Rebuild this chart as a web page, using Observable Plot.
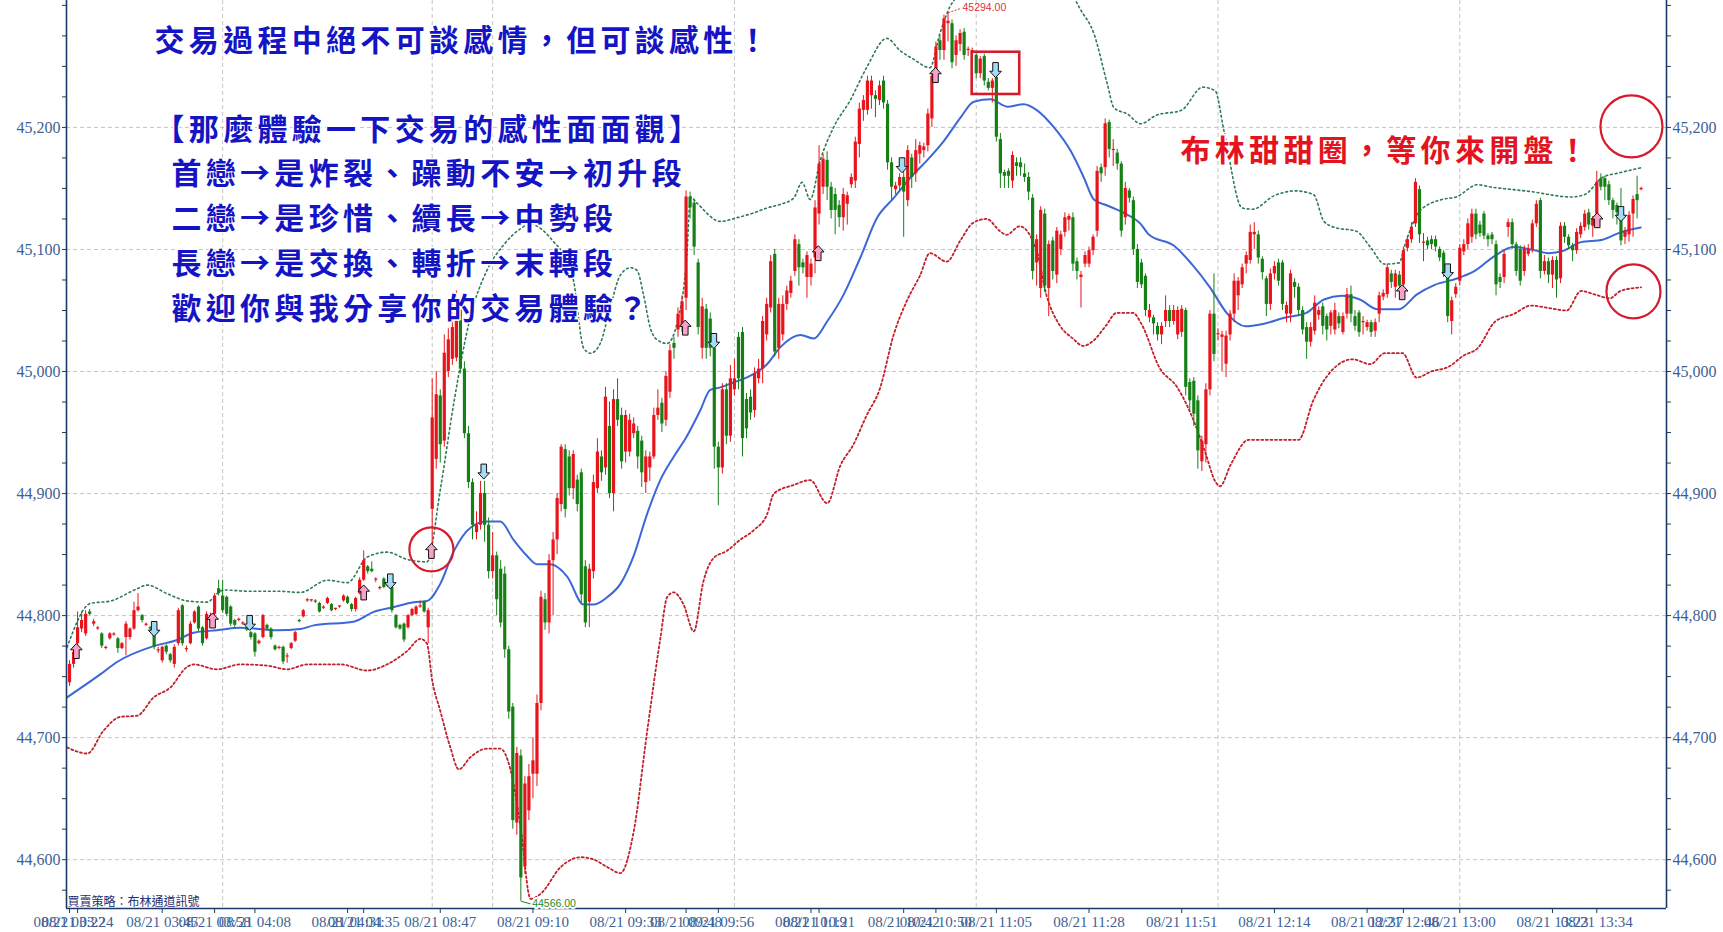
<!DOCTYPE html>
<html><head><meta charset="utf-8">
<script src="https://cdn.jsdelivr.net/npm/d3@7"></script>
<script src="https://cdn.jsdelivr.net/npm/@observablehq/plot@0.6"></script>
<style>html,body{margin:0;padding:0;background:#fff;overflow:hidden}</style>
</head><body><div id="chart"></div>
<script>
// ---- candle data: minute index m = i + 1 (night session 03:22–04:51, day session 08:45–13:45) ----
const open = [
44745,44760,44777,44789,44785,44803,44793,44789,44785,44773,44781,44784,44781,44773,44782,44782,44789,44804,44800,44792,
44790,44785,44771,44763,44775,44768,44760,44777,44808,44772,44777,44794,44807,44790,44781,44795,44801,44822,44816,44815,
44807,44796,44796,44793,44790,44786,44785,44777,44782,44792,44789,44775,44773,44774,44766,44773,44779,44796,44799,44812,
44812,44812,44810,44806,44810,44809,44805,44807,44812,44815,44809,44805,44818,44829,44840,44838,44829,44822,44830,44825,
44823,44800,44792,44793,44790,44800,44801,44807,44811,44790,
44887,44928,44980,44943,45000,45010,45011,45053,45002,44949,44909,44868,44874,44900,44874,44836,44849,44838,44834,44772,
44725,44630,44685,44594,44640,44670,44670,44728,44813,44794,44845,44862,44891,44936,44930,44904,44911,44917,44840,44811,
44836,44904,44930,44921,44955,44900,44977,44964,44934,44934,44949,44951,44943,44909,44921,44930,44964,44974,44960,44983,
45023,45034,45036,45060,45143,45138,45089,45019,45051,45043,45019,44938,44921,44985,44947,44985,45028,45032,44977,44979,
44968,44994,45002,45030,45052,45096,45019,45030,45055,45064,45082,45104,45089,45077,45077,45093,45129,45151,45173,45151,
45145,45136,45126,45137,45153,45156,45186,45214,45214,45226,45226,45222,45238,45219,45171,45149,45152,45159,45140,45175,
45162,45178,45181,45185,45207,45241,45271,45263,45285,45285,45259,45268,45278,45263,45262,45259,45244,45258,45237,45232,
45241,45190,45163,45164,45156,45171,45171,45162,45159,45142,45089,45068,45129,45068,45107,45079,45100,45114,45124,45126,
45090,45077,45088,45088,45099,45115,45167,45167,45204,45181,45179,45170,45126,45148,45140,45100,45089,45078,45044,45044,
45037,45030,45041,45050,45041,45030,45032,45050,44991,44992,44976,44926,44940,44985,45047,45030,45028,45006,45030,45047,
45062,45071,45088,45091,45112,45112,45092,45076,45055,45080,45089,45089,45047,45047,45073,45069,45050,45036,45024,45033,
45046,45053,45045,45037,45034,45045,45032,45047,45063,45045,45048,45040,45036,45040,45033,45047,45061,45063,45080,45069,
45079,45071,45101,45108,45121,45149,45105,45107,45108,45108,45100,45097,45080,45041,45063,45074,45098,45104,45110,45129,
45120,45129,45111,45112,45104,45077,45077,45118,45122,45104,45100,45082,45096,45100,45121,45140,45082,45090,45079,45091,
45076,45119,45110,45103,45099,45112,45118,45130,45119,45129,45158,45158,45153,45140,45136,45130,45110,45112,45129,45145,
45149];
const close = [
44760,44770,44790,44796,44801,44801,44795,44790,44775,44774,44785,44785,44773,44777,44793,44789,44804,44807,44796,44793,
44789,44774,44772,44774,44770,44763,44774,44804,44777,44773,44793,44803,44789,44777,44801,44800,44816,44818,44804,44801,
44793,44792,44797,44794,44788,44782,44770,44779,44800,44789,44782,44772,44774,44762,44767,44777,44786,44795,44804,44813,
44813,44811,44803,44807,44814,44804,44806,44808,44816,44810,44805,44814,44829,44845,44836,44836,44830,44823,44823,44824,
44804,44790,44789,44780,44800,44805,44807,44808,44803,44804,
44962,44981,44940,45015,45026,45036,45057,45002,44949,44909,44874,44874,44900,44874,44836,44849,44813,44794,44772,44721,
44632,44687,44585,44662,44668,44681,44728,44815,44794,44845,44862,44896,44938,44887,44904,44932,44891,44817,44794,44838,
44909,44934,44917,44979,44900,44977,44960,44926,44964,44960,44957,44930,44917,44930,44930,44964,44970,44957,44996,45017,
45019,45047,45057,45143,45134,45102,45036,45053,45019,45019,44938,44921,44985,44947,44994,44994,44994,44945,44953,44966,
44998,45002,45041,45055,45090,45016,45055,45055,45066,45074,45108,45085,45085,45095,45088,45134,45170,45174,45151,45132,
45132,45126,45145,45144,45159,45188,45215,45222,45238,45238,45223,45234,45220,45171,45151,45152,45159,45147,45181,45159,
45181,45185,45184,45211,45242,45266,45263,45289,45287,45253,45271,45277,45259,45264,45263,45244,45256,45238,45232,45238,
45192,45162,45160,45160,45177,45168,45167,45159,45147,45082,45108,45132,45070,45104,45082,45115,45112,45126,45127,45088,
45082,45079,45095,45099,45110,45164,45162,45203,45182,45182,45170,45115,45150,45142,45100,45073,45071,45050,45050,45039,
45030,45037,45050,45041,45050,45050,45051,44987,44976,44965,44935,44943,44985,45047,45014,45031,45030,45029,45047,45074,
45074,45085,45095,45114,45114,45093,45081,45055,45080,45086,45074,45055,45054,45080,45069,45050,45034,45024,45036,45056,
45050,45037,45034,45048,45050,45039,45045,45063,45047,45037,45032,45041,45040,45032,45040,45062,45064,45085,45073,45080,
45070,45099,45108,45118,45155,45112,45106,45103,45104,45102,45093,45080,45045,45058,45069,45101,45104,45121,45129,45112,
45113,45111,45108,45108,45071,45073,45096,45122,45104,45082,45074,45100,45100,45121,45137,45082,45090,45079,45091,45075,
45119,45110,45103,45099,45114,45119,45129,45120,45125,45155,45151,45151,45140,45132,45130,45107,45115,45128,45141,45140,
45150];
const high = [
44763,44773,44803,44803,44804,44805,44797,44791,44786,44775,44786,44786,44782,44778,44795,44790,44811,44818,44801,44794,
44791,44786,44774,44775,44776,44769,44776,44806,44809,44775,44795,44804,44808,44791,44803,44802,44818,44829,44829,44816,
44808,44797,44798,44795,44791,44787,44786,44780,44801,44793,44790,44776,44775,44775,44769,44778,44787,44797,44805,44814,
44813,44813,44811,44808,44815,44810,44806,44808,44817,44816,44810,44815,44831,44853,44841,44844,44831,44824,44831,44826,
44824,44801,44793,44794,44801,44806,44808,44812,44812,44806,
44994,45000,44985,45030,45035,45062,45066,45060,45008,44955,44912,44885,44910,44910,44880,44868,44852,44845,44840,44775,
44728,44692,44690,44668,44678,44700,44735,44820,44818,44850,44868,44900,44940,44940,44935,44935,44915,44920,44845,44842,
44915,44945,44935,44987,44975,44985,44994,44970,44968,44965,44962,44955,44947,44935,44934,44970,44985,44978,45000,45022,
45028,45052,45062,45148,45147,45140,45092,45060,45055,45048,45022,44942,44990,44990,45005,45010,45032,45036,44982,44985,
45003,45010,45045,45060,45095,45100,45060,45062,45070,45078,45112,45108,45092,45098,45092,45140,45185,45178,45180,45155,
45150,45140,45150,45147,45162,45192,45220,45226,45242,45242,45230,45238,45242,45222,45175,45155,45162,45170,45185,45178,
45190,45188,45187,45215,45246,45270,45275,45292,45294,45288,45275,45280,45281,45266,45265,45262,45258,45260,45240,45240,
45243,45195,45165,45166,45180,45175,45175,45170,45163,45145,45112,45135,45133,45107,45110,45118,45115,45130,45129,45130,
45093,45082,45098,45102,45112,45168,45170,45207,45206,45190,45182,45172,45155,45150,45143,45104,45092,45080,45055,45046,
45040,45040,45062,45054,45054,45053,45054,45052,44994,44995,44980,44947,44990,45050,45080,45035,45033,45033,45050,45080,
45077,45088,45098,45120,45122,45115,45094,45078,45084,45090,45092,45091,45057,45083,45076,45072,45053,45040,45040,45062,
45053,45056,45047,45050,45056,45048,45048,45068,45070,45050,45050,45045,45042,45042,45043,45065,45067,45088,45083,45083,
45082,45102,45111,45122,45158,45152,45113,45110,45111,45111,45102,45099,45082,45061,45072,45104,45108,45125,45133,45133,
45123,45131,45113,45114,45107,45080,45099,45125,45125,45106,45103,45103,45104,45124,45140,45142,45095,45093,45094,45094,
45122,45122,45112,45105,45117,45122,45132,45133,45127,45164,45162,45160,45156,45142,45138,45150,45118,45131,45144,45160,
45151];
const low = [
44742,44757,44775,44786,44783,44800,44791,44788,44773,44772,44780,44783,44769,44772,44767,44780,44788,44803,44794,44791,
44787,44772,44769,44761,44768,44761,44757,44775,44775,44770,44776,44793,44787,44775,44780,44793,44800,44816,44802,44799,
44791,44790,44795,44792,44787,44780,44766,44776,44781,44788,44780,44771,44772,44760,44761,44772,44778,44794,44798,44811,
44811,44810,44802,44805,44809,44803,44804,44806,44811,44809,44803,44803,44817,44828,44834,44835,44827,44821,44822,44823,
44802,44789,44788,44778,44789,44799,44800,44806,44802,44777,
44852,44920,44925,44938,44995,45005,45008,44998,44945,44904,44862,44862,44870,44860,44830,44830,44800,44790,44765,44715,
44625,44620,44566,44588,44632,44650,44660,44722,44788,44785,44800,44850,44885,44880,44898,44895,44885,44810,44790,44790,
44830,44900,44910,44915,44896,44885,44955,44920,44925,44930,44945,44920,44905,44900,44910,44928,44960,44950,44955,44978,
45010,45028,45032,45050,45125,45095,45030,45010,45010,45012,44920,44890,44916,44940,44942,44980,44985,44930,44945,44960,
44962,44990,44990,45025,45048,45012,45010,45025,45050,45060,45078,45070,45080,45060,45070,45080,45120,45145,45140,45125,
45112,45118,45115,45120,45150,45150,45175,45205,45210,45215,45208,45218,45215,45165,45140,45145,45148,45110,45135,45150,
45155,45170,45175,45180,45200,45236,45255,45255,45270,45248,45250,45262,45255,45258,45255,45240,45240,45234,45230,45220,
45188,45150,45150,45150,45150,45160,45160,45155,45140,45075,45070,45060,45065,45045,45075,45072,45095,45110,45115,45082,
45075,45052,45085,45085,45095,45110,45155,45160,45175,45168,45165,45110,45120,45138,45095,45068,45068,45045,45040,45030,
45025,45022,45036,45036,45038,45026,45028,44980,44968,44955,44920,44918,44925,44980,45008,45025,45000,44995,45025,45040,
45050,45068,45080,45088,45100,45088,45075,45045,45050,45075,45070,45050,45040,45040,45060,45045,45030,45010,45020,45030,
45042,45030,45025,45030,45030,45035,45030,45043,45040,45033,45028,45030,45033,45028,45028,45040,45058,45060,45068,45060,
45068,45068,45098,45105,45118,45105,45090,45100,45100,45098,45090,45077,45040,45030,45060,45070,45095,45100,45105,45108,
45110,45108,45102,45104,45062,45068,45072,45110,45100,45078,45070,45078,45094,45097,45118,45076,45079,45072,45068,45060,
45072,45105,45100,45090,45096,45109,45115,45116,45110,45125,45148,45140,45136,45125,45120,45103,45104,45106,45110,45125,
45148];

// ---- Bollinger bands (20-period): minute index / value ----
const upperM = [0.4,6.2,11.2,17.8,20.3,25.2,30.2,35.2,37.6,39.3,45.1,52.5,58.3,65,70,74.9,79.8,84.8,89.7,93.1,96.4,100.5,104.6,108.8,112.9,115.4,118.7,121.2,123.6,126.1,128.6,130.3,132.7,135.2,137.7,140.2,141.8,143.5,145.1,146.8,149.3,151.8,154.2,155.1,156.7,162.5,166.6,170.8,174.1,177.4,180.7,182.8,184.8,187.3,190.6,194.7,198.8,203.8,207.1,210.4,214.5,217,219.5,222,226,236,246,251.8,255.2,258.5,260.2,263.5,266.8,270.7,276.9,282.2,285.3,287.5,292,294.6,299.9,305.2,309.7,312.3,315,320.3,323.8,327.4,330.9,332.7,336.2,341.6,345.1,350.4,354,359.3,364.6,368.1,373.4,377,381.4,385.9,391];
const upperV = [44774,44810,44812,44822,44825,44818,44812,44811,44818,44821,44820,44820,44819,44829,44827,44848,44852,44846,44844,44905,44975,45045,45083,45104,45117,45121,45115,45106,45096,45074,45019,45015,45023,45053,45079,45085,45083,45062,45036,45026,45023,45040,45096,45143,45138,45123,45126,45130,45134,45137,45142,45155,45141,45173,45200,45222,45249,45273,45263,45256,45249,45277,45299,45310,45330,45345,45330,45297,45277,45236,45216,45211,45203,45210,45214,45233,45230,45197,45134,45133,45144,45148,45145,45123,45118,45115,45102,45088,45089,45107,45132,45141,45143,45153,45151,45149,45147,45145,45143,45145,45159,45163,45167];
const midM = [0.4,8.7,12.8,21.9,27.7,31.8,37.6,43.4,52.5,58.3,61.6,71.5,76.5,81.5,86.4,89.7,93,96.4,100.5,104.6,107.9,111.2,114.5,117,120.3,124.5,128.6,131,134.4,137.7,141,144.3,147.6,150.9,154.2,157.5,160,162.5,165.8,170.8,174.1,177.4,182.4,185.7,189,193.1,197.2,201.4,205.5,209.7,213.8,218,222.1,225.4,229.6,233.7,237.8,241.1,245.3,249.4,252.7,255.2,258.5,262.6,266.8,268.9,275.1,279.5,284,288.4,292.8,297.2,302.5,307.9,312.3,316.7,321.2,325.6,330.9,335.3,339.8,345.1,349.5,354.8,359.3,363.7,368.1,371.7,376.1,381.4,385.9,390.9];
const midV = [44733,44752,44762,44775,44780,44786,44788,44790,44788,44789,44792,44795,44803,44807,44811,44812,44826,44853,44872,44877,44877,44862,44849,44842,44842,44832,44809,44809,44815,44826,44849,44883,44911,44930,44947,44968,44985,44987,44991,44998,45006,45020,45030,45027,45041,45063,45093,45126,45142,45159,45173,45189,45208,45221,45223,45217,45219,45214,45200,45181,45159,45141,45136,45130,45121,45112,45103,45088,45069,45047,45037,45039,45044,45048,45059,45062,45059,45051,45051,45063,45071,45076,45082,45095,45102,45100,45097,45099,45106,45108,45114,45118];
const lowerM = [0.4,5.4,9.5,13.6,17.8,21.9,26,30.2,31.8,37.6,43.4,50,55,60,68.2,74.9,79.8,84.8,88.1,89.7,91,93,95.5,97.6,100.5,104.6,107.9,110.4,112.9,115.4,117.9,122.9,127.8,131.2,134.4,137.7,141,144.3,147.6,149.3,150.9,153.4,155.9,158.3,160.8,164.1,167.4,170.8,174.1,175.8,180.7,184.8,189,192.3,195.5,198.8,202.1,205.5,208.8,212.1,214.5,218.7,222,225.3,228.6,231.9,233.5,236.8,241,243.4,246.7,250,252.5,255,258.3,260.8,264.9,267,271.5,275.9,280.3,283,285.3,286.5,289.2,293.6,298.9,306,309.6,314,319.4,323.8,327.4,331.8,335.3,338.9,343.3,346.9,350.4,354.8,359.3,363.7,368.1,372.5,376.1,379.6,383.2,385.9,391];
const lowerV = [44692,44687,44706,44717,44718,44733,44741,44758,44760,44756,44760,44759,44756,44760,44760,44755,44760,44771,44781,44777,44747,44722,44692,44674,44684,44691,44691,44674,44628,44568,44572,44594,44602,44600,44594,44589,44623,44704,44781,44815,44819,44809,44787,44828,44847,44853,44862,44870,44883,44900,44907,44911,44892,44923,44940,44964,44986,45030,45058,45079,45097,45090,45107,45122,45125,45115,45112,45119,45099,45063,45038,45027,45021,45025,45038,45048,45048,45039,45003,44987,44957,44932,44910,44906,44924,44944,44944,44944,44976,45000,45010,45006,45015,45015,44995,45000,45004,45013,45019,45041,45047,45054,45052,45050,45066,45063,45060,45066,45069];

// ---- buy / sell signals ----
const buyM = [2.7,36.5,74,90.8,153.8,186.8,215.9,331.7,380.1];
const buyV = [44771,44796,44819,44853,45036,45097,45243,45065,45124];
const sellM = [22,45.7,80.6,103.8,160.9,207.6,230.8,343,386];
const sellV = [44789,44794,44828,44918,45025,45169,45247,45082,45129];

// ---- axis ticks ----
const yTicks = [44600,44700,44800,44900,45000,45100,45200];
const yMinorTicks = [44575,44600,44625,44650,44675,44700,44725,44750,44775,44800,44825,44850,44875,44900,44925,44950,44975,45000,45025,45050,45075,45100,45125,45150,45175,45200,45225,45250,45275,45300];
const xTickM = [1,3,24,37,47,70,74,93,116,139,154,162,185,187,208,216,231,254,277,300,323,332,346,369,380];
const xTickLabels = ["08/21 03:22","08/21 03:24","08/21 03:45","08/21 03:58","08/21 04:08","08/21 04:31","08/21 04:35","08/21 08:47","08/21 09:10","08/21 09:33","08/21 09:48","08/21 09:56","08/21 10:19","08/21 10:21","08/21 10:42","08/21 10:50","08/21 11:05","08/21 11:28","08/21 11:51","08/21 12:14","08/21 12:37","08/21 12:46","08/21 13:00","08/21 13:23","08/21 13:34"];
const hourGridM = [39,91,106,166,226,286,346]; // 04:00, 08:45, 09:00, 10:00, 11:00, 12:00, 13:00

// ---- annotations ----
const noteText = ["交易過程中絕不可談感情，但可談感性！","【那麼體驗一下交易的感性面面觀】","首戀→是炸裂、躁動不安→初升段","二戀→是珍惜、續長→中勢段","長戀→是交換、轉折→末轉段","歡迎你與我分享你的交易體驗？"];
const noteM = [22.1,22.1,26.3,26.3,26.3,26.3];
const noteV = [45270.4,45197.5,45161.4,45124.6,45087.7,45050.8];
const redNote = "布林甜甜圈，等你來開盤！";
const redNoteM = 276.7, redNoteV = 45180.3;
const circleM = [388.6,389.1,90.8];
const circleV = [45200.8,45065.6,44854.2];
const circleR = [31,27,22];
const boxM = [225,236.8], boxV = [45227,45261.6];
const caption = "買賣策略：布林通道訊號";
const highLabel = "45294.00", lowLabel = "44566.00";

// ---- build ----
const xDomain = [0.25, 397.3];
const yDomain = [44560, 45304];
const RED = "#e8141c", GREEN = "#168016";
const AXIS = "#1c3a64", LABEL = "#3f5f94";
const candles = open.map((o, i) => ({m: i + 1, o, c: close[i], h: high[i], l: low[i]}));
const col = d => (d.c >= d.o ? RED : GREEN);
const pts = (M, V) => M.map((m, i) => ({m, v: V[i]}));
const hi = candles.reduce((a, b) => (b.h > a.h ? b : a));
const lo = candles.reduce((a, b) => (b.l < a.l ? b : a));
const fmt = d3.format(",");
const xLabel = new Map(xTickM.map((m, i) => [m, xTickLabels[i]]));

const upArrow = {draw(ctx) {
  ctx.moveTo(0, -7.5); ctx.lineTo(5.8, -1.2); ctx.lineTo(2.8, -1.2); ctx.lineTo(2.8, 7.5);
  ctx.lineTo(-2.8, 7.5); ctx.lineTo(-2.8, -1.2); ctx.lineTo(-5.8, -1.2); ctx.closePath();
}};
const downArrow = {draw(ctx) {
  ctx.moveTo(0, 7.5); ctx.lineTo(5.8, 1.2); ctx.lineTo(2.8, 1.2); ctx.lineTo(2.8, -7.5);
  ctx.lineTo(-2.8, -7.5); ctx.lineTo(-2.8, 1.2); ctx.lineTo(-5.8, 1.2); ctx.closePath();
}};

const cjk = {fontFamily: "'Noto Sans CJK TC', 'Noto Sans CJK SC', sans-serif", fontWeight: "bold", fontSize: 30,
  textAnchor: "start", stroke: "white", strokeWidth: 3, paintOrder: "stroke"};

const chart = Plot.plot({
  width: 1723, height: 932,
  marginLeft: 66, marginRight: 57, marginTop: 0, marginBottom: 24,
  x: {domain: xDomain, axis: null},
  y: {domain: yDomain, axis: null},
  r: {type: "identity"},
  style: {background: "white", fontFamily: "'Liberation Serif', serif", overflow: "visible"},
  marks: [
    Plot.ruleY(yTicks, {stroke: "#c4c4c4", strokeDasharray: "4,3"}),
    Plot.ruleX(hourGridM, {stroke: "#c4c4c4", strokeDasharray: "4,3"}),
    Plot.line(pts(upperM, upperV), {x: "m", y: "v", stroke: "#2f7a52", strokeWidth: 1.6, strokeDasharray: "1.8,3", curve: "monotone-x", clip: true}),
    Plot.line(pts(lowerM, lowerV), {x: "m", y: "v", stroke: "#c0202a", strokeWidth: 1.8, strokeDasharray: "2,2.6", curve: "monotone-x", clip: true}),
    Plot.line(pts(midM, midV), {x: "m", y: "v", stroke: "#3b67d8", strokeWidth: 2, curve: "monotone-x"}),
    Plot.ruleX(candles, {x: "m", y1: "l", y2: "h", stroke: col, strokeWidth: 1}),
    Plot.ruleX(candles, {x: "m", y1: "o", y2: "c", stroke: col, strokeWidth: 3.2}),
    Plot.dot(pts(buyM, buyV), {x: "m", y: "v", symbol: upArrow, r: 8, fill: "#f8a2c9", stroke: "#111", strokeWidth: 1}),
    Plot.dot(pts(sellM, sellV), {x: "m", y: "v", symbol: downArrow, r: 8, fill: "#a6dbf5", stroke: "#111", strokeWidth: 1}),
    // axes
    Plot.axisY(yMinorTicks, {anchor: "left", label: null, tickSize: 4, tickPadding: 2, stroke: AXIS, fill: LABEL, fontSize: 16,
      tickFormat: d => (yTicks.includes(d) ? fmt(d) : "")}),
    Plot.axisY(yMinorTicks, {anchor: "right", label: null, tickSize: 4, tickPadding: 2, stroke: AXIS, fill: LABEL, fontSize: 16,
      tickFormat: d => (yTicks.includes(d) ? fmt(d) : "")}),
    Plot.axisX(xTickM, {anchor: "bottom", label: null, tickSize: 5, tickPadding: 3, stroke: AXIS, fill: LABEL, fontSize: 15,
      tickFormat: d => xLabel.get(d)}),
    Plot.ruleX(xDomain, {stroke: AXIS, strokeWidth: 1.6}),
    Plot.ruleY([yDomain[0]], {stroke: AXIS, strokeWidth: 1.6}),
    // high / low labels
    Plot.link([hi], {x1: "m", y1: "h", x2: d => d.m + 3.3, y2: d => d.h + 3.6, stroke: "#d23a3a", strokeWidth: 1, strokeDasharray: "2,1.5"}),
    Plot.text([hi], {x: d => d.m + 3.6, y: d => d.h + 4.2, text: () => highLabel, textAnchor: "start", fill: "#e0303c",
      fontSize: 10.5, fontFamily: "'Liberation Sans', sans-serif"}),
    Plot.link([lo], {x1: "m", y1: "l", x2: d => d.m + 2.6, y2: d => d.l - 2.4, stroke: "#1f7f1f", strokeWidth: 1}),
    Plot.text([lo], {x: d => d.m + 2.8, y: d => d.l - 2, text: () => lowLabel, textAnchor: "start", fill: "#2a8a2a",
      fontSize: 10.5, fontFamily: "'Liberation Sans', sans-serif", stroke: "white", strokeWidth: 4, paintOrder: "stroke"}),
    // annotations
    Plot.dot(pts(circleM, circleV).map((d, i) => ({...d, r: circleR[i]})), {x: "m", y: "v", r: "r", stroke: "#d61c2c", strokeWidth: 2.2, fill: "none"}),
    Plot.rect([0], {x1: () => boxM[0], x2: () => boxM[1], y1: () => boxV[0], y2: () => boxV[1], fill: "none", stroke: "#d61c2c", strokeWidth: 2.6}),
    Plot.text(noteText, {x: (d, i) => noteM[i], y: (d, i) => noteV[i], text: d => d, fill: "#1414c4", ...cjk}),
    Plot.text([redNote], {x: () => redNoteM, y: () => redNoteV, text: d => d, fill: "#e4141e", ...cjk}),
    Plot.text([caption], {x: () => xDomain[0], y: () => 44564.9, text: d => d, textAnchor: "start", dx: 1, fill: "#1c2e6e",
      fontSize: 12, fontFamily: "'Noto Sans CJK TC', sans-serif"})
  ]
});
chart.querySelectorAll('g[font-size="30"]').forEach(g => { g.style.letterSpacing = "4.3px"; });
document.getElementById("chart").appendChild(chart);
</script></body></html>
